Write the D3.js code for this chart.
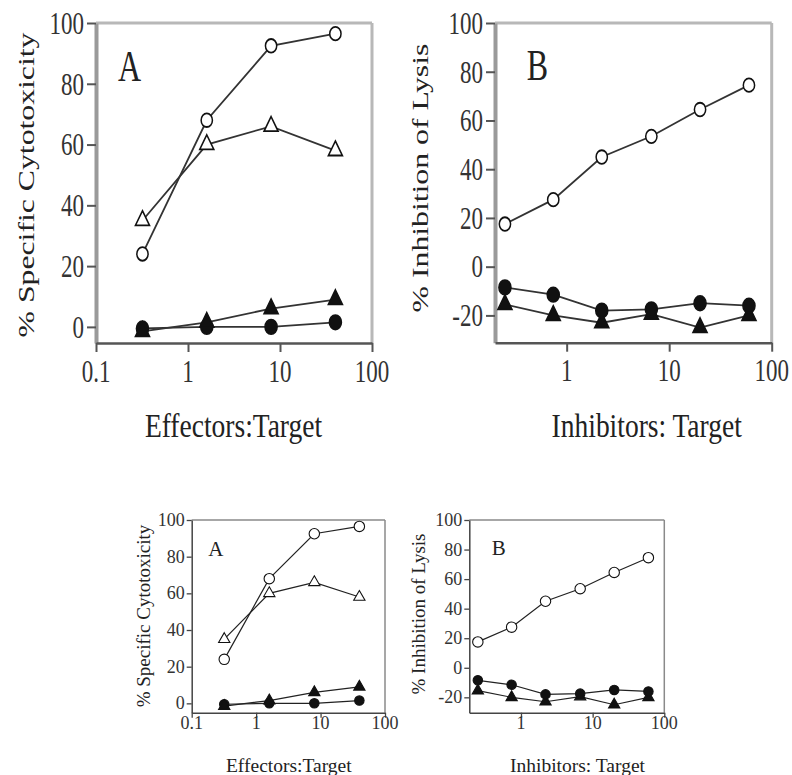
<!DOCTYPE html>
<html>
<head>
<meta charset="utf-8">
<script src="https://cdn.jsdelivr.net/npm/d3@7"></script>
<style>
  html, body { margin: 0; padding: 0; background: #fff; }
  svg { display: block; }
</style>
</head>
<body>
<div id="chart"></div>
<script>
// ---------------- DATA ----------------
// Panel A: % Specific Cytotoxicity vs Effectors:Target
const effectorRatios = [0.32, 1.6, 8, 40];
const aOpenCircle    = [24, 68, 92.5, 96.5];
const aOpenTriangle  = [35, 60, 66, 58];
const aFilledTriangle = [-1.5, 1.5, 6, 9];
const aFilledCircle  = [-0.5, 0, 0, 1.5];

// Panel B: % Inhibition of Lysis vs Inhibitors: Target
const inhibitorRatios = [0.25, 0.74, 2.2, 6.7, 20, 60];
const bOpenCircle     = [17.5, 27.5, 45, 53.5, 64.5, 74.5];
const bFilledCircle   = [-8.5, -11.5, -18, -17.5, -15, -16];
const bFilledTriangle = [-15.5, -20, -23, -19.5, -25, -20];

// Ticks
const aXTicks = [0.1, 1, 10, 100];
const aXTickLabels = ["0.1", "1", "10", "100"];
const aYTicks = [0, 20, 40, 60, 80, 100];
const aYTickLabels = ["0", "20", "40", "60", "80", "100"];
const bXTicks = [1, 10, 100];
const bXTickLabels = ["1", "10", "100"];
const bYTicks = [-20, 0, 20, 40, 60, 80, 100];
const bYTickLabels = ["-20", "0", "20", "40", "60", "80", "100"];

// Text
const aYTitle = "% Specific Cytotoxicity";
const aXTitle = "Effectors:Target";
const bYTitle = "% Inhibition of Lysis";
const bXTitle = "Inhibitors: Target";

// ---------------- DRAW ----------------
const FONT = "'Liberation Serif', 'Times New Roman', Times, serif";
const svg = d3.select("#chart").append("svg").attr("width", 792).attr("height", 775);

function txt(g, s, x, y, o) {
  const t = g.append("text")
    .attr("transform", `translate(${x},${y}) scale(1,${o.sy || 1})` + (o.rot ? ` rotate(${o.rot})` : ""))
    .attr("text-anchor", o.anchor || "middle")
    .attr("font-family", FONT)
    .attr("font-size", o.size)
    .attr("fill", o.fill || "#222")
    .text(s);
  if (o.dy) t.attr("dy", o.dy);
  return t;
}

function panel(c, series) {
  const g = svg.append("g");
  const x = d3.scaleLog().domain(c.xDomain).range([c.x0, c.x1]);
  const y = d3.scaleLinear().domain(c.yDomain).range([c.y1, c.y0]);

  // top & right frame
  g.append("line").attr("x1", c.x0).attr("x2", c.x1).attr("y1", c.y0).attr("y2", c.y0)
    .attr("stroke", c.frameColor).attr("stroke-width", c.frameW);
  g.append("line").attr("x1", c.x1).attr("x2", c.x1).attr("y1", c.y0).attr("y2", c.y1)
    .attr("stroke", c.frameColor).attr("stroke-width", c.frameW);

  // axes (ticks only, labels drawn separately)
  const ya = g.append("g").attr("transform", `translate(${c.x0},0)`)
    .call(d3.axisLeft(y).tickValues(c.yTicks).tickSize(c.tick).tickSizeOuter(0).tickFormat(""));
  ya.select(".domain").attr("stroke", c.yAxisColor).attr("stroke-width", c.yAxisW);
  ya.selectAll(".tick line").attr("stroke", c.tickColor).attr("stroke-width", c.tickW);

  const xa = g.append("g").attr("transform", `translate(0,${c.y1})`)
    .call(d3.axisBottom(x).tickValues(c.xTicks).tickSize(c.tick).tickSizeOuter(0).tickFormat(""));
  xa.select(".domain").attr("stroke", c.xAxisColor).attr("stroke-width", c.xAxisW);
  xa.selectAll(".tick line").attr("stroke", c.tickColor).attr("stroke-width", c.tickW);

  // tick labels
  c.yTicks.forEach((v, i) => txt(g, c.yLabels[i], c.x0 - c.tick - c.pad, y(v),
    { anchor: "end", size: c.tickFont, sy: c.sy, dy: "0.34em", fill: c.labelColor }));
  c.xTicks.forEach((v, i) => txt(g, c.xLabels[i], x(v), c.xLabelY,
    { anchor: "middle", size: c.tickFont, sy: c.sy, fill: c.labelColor }));

  // titles
  txt(g, c.xTitle, c.xTitlePos[0], c.xTitlePos[1], { size: c.titleFont, sy: c.titleSy });
  txt(g, c.yTitle, c.yTitlePos[0], c.yTitlePos[1], { size: c.yTitleFont, sy: c.sy, rot: -90 });
  txt(g, c.letter, c.letterPos[0], c.letterPos[1], { anchor: "start", size: c.letterFont, sy: c.sy });

  // series
  const line = d3.line().x(d => x(d[0])).y(d => y(d[1]));
  series.forEach(s => {
    const pts = s.xs.map((xv, i) => [xv, s.ys[i]]);
    g.append("path").attr("d", line(pts)).attr("fill", "none")
      .attr("stroke", c.lineColor).attr("stroke-width", c.lineW);
  });
  series.forEach(s => {
    const pts = s.xs.map((xv, i) => [xv, s.ys[i]]);
    const isTri = s.shape === "triangle";
    const sym = d3.symbol().type(isTri ? d3.symbolTriangle : d3.symbolCircle)
      .size(isTri ? c.triSize : (s.filled ? c.fCircSize : c.circSize));
    g.selectAll(null).data(pts).enter().append("path")
      .attr("d", sym())
      .attr("transform", d => `translate(${x(d[0])},${y(d[1])}) scale(1,${c.markerSy})`)
      .attr("fill", s.filled ? "#111" : "#fff")
      .attr("stroke", "#111")
      .attr("stroke-width", c.markerStroke);
  });
}

const aSeries = [
  { xs: effectorRatios, ys: aFilledCircle, shape: "circle", filled: true },
  { xs: effectorRatios, ys: aFilledTriangle, shape: "triangle", filled: true },
  { xs: effectorRatios, ys: aOpenTriangle, shape: "triangle", filled: false },
  { xs: effectorRatios, ys: aOpenCircle, shape: "circle", filled: false }
];
const bSeries = [
  { xs: inhibitorRatios, ys: bFilledTriangle, shape: "triangle", filled: true },
  { xs: inhibitorRatios, ys: bFilledCircle, shape: "circle", filled: true },
  { xs: inhibitorRatios, ys: bOpenCircle, shape: "circle", filled: false }
];

const bigStyle = {
  sy: 1.38, titleSy: 1.25, tick: 9, pad: 3, tickFont: 23, titleFont: 27.5, yTitleFont: 23, letterFont: 32,
  frameColor: "#b8b8b8", frameW: 3, yAxisColor: "#9a9a9a", yAxisW: 4, xAxisColor: "#555", xAxisW: 2.5,
  tickColor: "#555", tickW: 2, labelColor: "#333", lineColor: "#333", lineW: 1.8,
  markerSy: 1.2, circSize: 100, fCircSize: 115, triSize: 85, markerStroke: 1.5
};
const smallStyle = {
  sy: 1, titleSy: 1, tick: 5, pad: 2, tickFont: 18, titleFont: 19.5, yTitleFont: 19, letterFont: 21,
  frameColor: "#8a8a8a", frameW: 1.5, yAxisColor: "#444", yAxisW: 1.5, xAxisColor: "#444", xAxisW: 1.5,
  tickColor: "#444", tickW: 1.3, labelColor: "#333", lineColor: "#222", lineW: 1.2,
  markerSy: 1, circSize: 85, fCircSize: 70, triSize: 55, markerStroke: 1.1
};

// Top large panels
panel(Object.assign({}, bigStyle, {
  x0: 96, x1: 372, y0: 23, y1: 343, xDomain: [0.1, 100], yDomain: [-5.3, 100],
  xTicks: aXTicks, xLabels: aXTickLabels, yTicks: aYTicks, yLabels: aYTickLabels,
  xLabelY: 381.5, xTitle: aXTitle, xTitlePos: [233.5, 436.5], yTitle: aYTitle, yTitlePos: [34, 185],
  letter: "A", letterPos: [118, 80.7]
}), aSeries);

panel(Object.assign({}, bigStyle, {
  x0: 495, x1: 771.7, y0: 23, y1: 342.7, xDomain: [0.2, 100], yDomain: [-31.2, 100],
  xTicks: bXTicks, xLabels: bXTickLabels, yTicks: bYTicks, yLabels: bYTickLabels,
  xLabelY: 380.5, xTitle: bXTitle, xTitlePos: [646.7, 436.5], yTitle: bYTitle, yTitlePos: [428, 178],
  letter: "B", letterPos: [526.7, 80]
}), bSeries);

// Bottom small panels
panel(Object.assign({}, smallStyle, {
  x0: 191.7, x1: 385, y0: 520, y1: 712.7, xDomain: [0.1, 100], yDomain: [-5.1, 100],
  xTicks: aXTicks, xLabels: aXTickLabels, yTicks: aYTicks, yLabels: aYTickLabels,
  xLabelY: 729, xTitle: aXTitle, xTitlePos: [288.8, 771.5], yTitle: aYTitle, yTitlePos: [150, 616],
  letter: "A", letterPos: [208.3, 556]
}), aSeries);

panel(Object.assign({}, smallStyle, {
  x0: 469.3, x1: 664.3, y0: 520, y1: 712.7, xDomain: [0.19, 100], yDomain: [-30.4, 100],
  xTicks: bXTicks, xLabels: bXTickLabels, yTicks: bYTicks, yLabels: bYTickLabels,
  xLabelY: 729, xTitle: bXTitle, xTitlePos: [577.5, 771.5], yTitle: bYTitle, yTitlePos: [425, 614],
  letter: "B", letterPos: [491.7, 555]
}), bSeries);
</script>
</body>
</html>
